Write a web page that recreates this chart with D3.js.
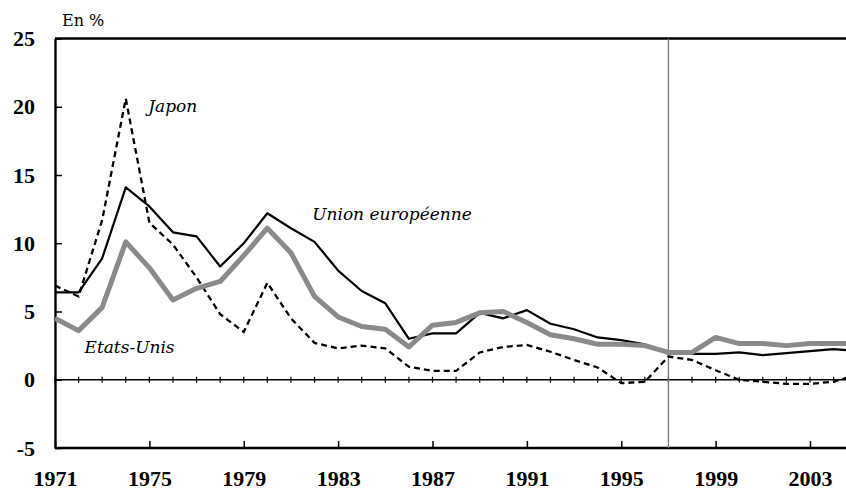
<!DOCTYPE html>
<html>
<head>
<meta charset="utf-8">
<script src="https://cdn.jsdelivr.net/npm/d3@7"></script>
<style>
    body { margin: 0; background: #fff; }
    svg { display: block; }
</style>
</head>
<body>
<div id="chart"></div>
<script>
const years = d3.range(1971, 2006);

const unionEuropeenne = [6.4, 6.4, 8.9, 14.1, 12.7, 10.8, 10.5, 8.3, 10.0, 12.2,
    11.1, 10.1, 8.0, 6.5, 5.6, 3.0, 3.4, 3.4, 4.9, 4.5,
    5.1, 4.1, 3.7, 3.1, 2.9, 2.6, 2.0, 1.9, 1.9, 2.0,
    1.8, 1.95, 2.1, 2.25, 2.1];

const etatsUnis = [4.5, 3.6, 5.3, 10.1, 8.2, 5.85, 6.7, 7.2, 9.1, 11.1,
    9.3, 6.1, 4.6, 3.9, 3.7, 2.4, 4.0, 4.2, 4.9, 5.0,
    4.2, 3.3, 3.0, 2.6, 2.6, 2.5, 2.0, 2.0, 3.1, 2.65,
    2.65, 2.5, 2.65, 2.65, 2.65];

const japon = [6.9, 6.1, 11.7, 20.6, 11.5, 9.9, 7.5, 4.8, 3.5, 7.1,
    4.5, 2.7, 2.3, 2.5, 2.3, 0.95, 0.65, 0.65, 2.0, 2.4,
    2.55, 2.05, 1.45, 0.9, -0.25, -0.15, 1.7, 1.45, 0.7, 0.0,
    -0.15, -0.3, -0.3, -0.15, 0.4];

const xTicks = [1971, 1975, 1979, 1983, 1987, 1991, 1995, 1999, 2003];
const yTicks = [-5, 0, 5, 10, 15, 20, 25];
const markerYear = 1997;

const labels = [
    { text: "Japon", year: 1974.95, value: 19.6 },
    { text: "Union européenne", year: 1981.9, value: 11.7 },
    { text: "Etats-Unis", year: 1972.25, value: 1.95 }
];

const ctx = { WIDTH: 846, HEIGHT: 490 };

const x = d3.scaleLinear().domain([1971, 2003]).range([55, 810]);
const y = d3.scaleLinear().domain([-5, 25]).range([448, 38.5]);

const svg = d3.select('#chart').append('svg')
    .attr('width', ctx.WIDTH)
    .attr('height', ctx.HEIGHT);

svg.append('defs').append('clipPath')
    .attr('id', 'plotClip')
    .append('rect')
    .attr('x', x(1971))
    .attr('y', 0)
    .attr('width', ctx.WIDTH - x(1971))
    .attr('height', ctx.HEIGHT);

const tickFont = '"Liberation Serif", "Times New Roman", serif';

// y axis, ticks point inside; plain hyphen for negatives like the source
const yAxis = svg.append('g')
    .attr('transform', `translate(${x(1971)},0)`)
    .call(d3.axisLeft(y).tickValues(yTicks).tickFormat(d => String(d))
        .tickSizeInner(-7).tickSizeOuter(0).tickPadding(20));
yAxis.select('.domain').attr('stroke', '#000').attr('stroke-width', 2.4);
yAxis.selectAll('.tick line').attr('stroke', '#000').attr('stroke-width', 1.5);
yAxis.selectAll('text')
    .style('font-family', tickFont)
    .style('font-weight', 'bold')
    .style('font-size', '22px')
    .attr('fill', '#000');

// bottom axis
const xAxis = svg.append('g')
    .attr('transform', `translate(0,${y(-5)})`)
    .call(d3.axisBottom(x).tickValues(xTicks).tickFormat(d3.format('d'))
        .tickSizeInner(-7).tickSizeOuter(0).tickPadding(22));
xAxis.select('.domain').remove();
xAxis.selectAll('.tick line').attr('stroke', '#000').attr('stroke-width', 1.5);
xAxis.selectAll('text')
    .style('font-family', tickFont)
    .style('font-weight', 'bold')
    .style('font-size', '22px')
    .attr('fill', '#000');

// frame lines (top and bottom run to the right edge)
svg.append('line')
    .attr('x1', x(1971)).attr('x2', ctx.WIDTH)
    .attr('y1', y(25)).attr('y2', y(25))
    .attr('stroke', '#000').attr('stroke-width', 2.4);
svg.append('line')
    .attr('x1', x(1971)).attr('x2', ctx.WIDTH)
    .attr('y1', y(-5)).attr('y2', y(-5))
    .attr('stroke', '#000').attr('stroke-width', 2.4);

// zero line with yearly ticks
svg.append('line')
    .attr('x1', x(1971)).attr('x2', ctx.WIDTH)
    .attr('y1', y(0)).attr('y2', y(0))
    .attr('stroke', '#000').attr('stroke-width', 1.6);
svg.selectAll('.zeroTick')
    .data(years.filter(d => x(d) <= ctx.WIDTH))
    .enter()
    .append('line')
    .attr('class', 'zeroTick')
    .attr('x1', d => x(d)).attr('x2', d => x(d))
    .attr('y1', y(0) - 3).attr('y2', y(0) + 3)
    .attr('stroke', '#000').attr('stroke-width', 1.2);

// vertical marker
svg.append('line')
    .attr('x1', x(markerYear)).attr('x2', x(markerYear))
    .attr('y1', y(25)).attr('y2', y(-5))
    .attr('stroke', '#777').attr('stroke-width', 1.3);

const line = d3.line()
    .x((d, i) => x(years[i]))
    .y(d => y(d));

const plot = svg.append('g').attr('clip-path', 'url(#plotClip)');

plot.append('path')
    .datum(japon)
    .attr('fill', 'none')
    .attr('stroke', '#000')
    .attr('stroke-width', 2.3)
    .attr('stroke-dasharray', '6,4')
    .attr('d', line);

plot.append('path')
    .datum(unionEuropeenne)
    .attr('fill', 'none')
    .attr('stroke', '#000')
    .attr('stroke-width', 2.2)
    .attr('stroke-linejoin', 'round')
    .attr('d', line);

plot.append('path')
    .datum(etatsUnis)
    .attr('fill', 'none')
    .attr('stroke', '#8a8a8a')
    .attr('stroke-width', 5)
    .attr('stroke-linejoin', 'round')
    .attr('d', line);

// series labels
svg.selectAll('.seriesLabel')
    .data(labels)
    .enter()
    .append('text')
    .attr('class', 'seriesLabel')
    .attr('x', d => x(d.year))
    .attr('y', d => y(d.value))
    .style('font-family', '"DejaVu Serif", serif')
    .style('font-style', 'italic')
    .style('font-size', '17px')
    .attr('fill', '#000')
    .text(d => d.text);

svg.append('text')
    .attr('x', 62)
    .attr('y', 26)
    .style('font-family', '"DejaVu Serif", serif')
    .style('font-size', '16px')
    .attr('fill', '#000')
    .text('En %');
</script>
</body>
</html>
